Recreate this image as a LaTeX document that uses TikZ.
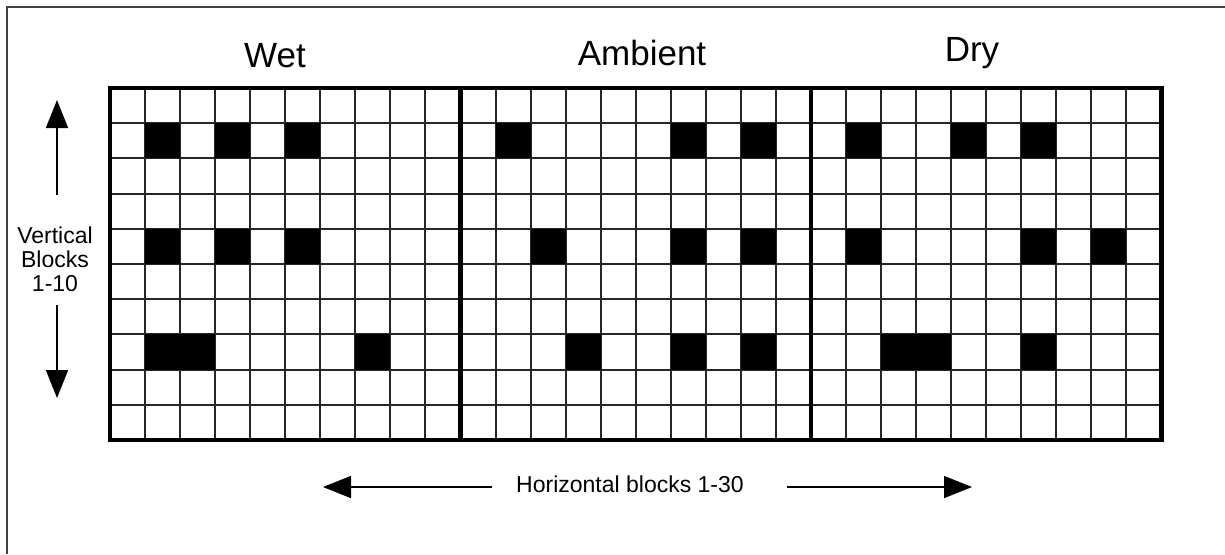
\documentclass[tikz,border=0pt]{standalone}
\usepackage{fontspec}
\setmainfont{Liberation Sans}
\usetikzlibrary{arrows.meta}
\tikzset{
  frame/.style ={draw=black!75, line width=0.8pt},
  cellline/.style={draw=black!85, line width=1pt},
  sect/.style  ={draw, line width=2.4pt},
  hit/.style   ={fill=black},
  ttl/.style   ={anchor=base, font=\fontsize{17.5}{20}\selectfont},
  lbl/.style   ={anchor=base, font=\fontsize{11.5}{12}\selectfont, align=center},
  fl/.style    ={-{Triangle[length=14pt,width=11pt]}, line width=0.8pt}
}
\newcommand{\cellw}{17.525pt}
\newcommand{\cellh}{17.6pt}

\begin{document}
\begin{tikzpicture}[x=0.5pt, y=-0.5pt]
  \useasboundingbox (0,0) rectangle (1225,554);
  \fill[white] (0,0) rectangle (1225,554);
  % outer frame (only top and left edges are in view)
  \draw[frame] (1225,7) -- (7,7) -- (7,554);

  % column titles
  \node[ttl] (wet) at (275,67) {Wet};
  \node[ttl] (amb) at (642,65) {Ambient};
  \node[ttl] (dry) at (972,61) {Dry};

  % the block grid, in cell units
  \begin{scope}[shift={(110,88)}, x=\cellw, y=-\cellh]
    \foreach \c in {1,...,29}
      \draw[cellline] (\c,0) -- (\c,10);
    \foreach \r in {1,...,9}
      \draw[cellline] (0,\r) -- (30,\r);
    \foreach \c/\r in {2/2,4/2,6/2, 2/5,4/5,6/5, 2/8,3/8,8/8,
                       12/2,17/2,19/2, 13/5,17/5,19/5, 14/8,17/8,19/8,
                       22/2,25/2,27/2, 22/5,27/5,29/5, 23/8,24/8,27/8}
      \fill[hit] (\c-1,\r-1) rectangle (\c,\r);
    \foreach \s in {0,10,20}
      \draw[sect] (\s,0) rectangle (\s+10,10);
  \end{scope}

  % vertical axis
  \node[lbl] (vlab) at (55,291) {Vertical\\Blocks\\1-10};
  \coordinate (vup0) at (57,195);  \coordinate (vup1) at (57,100);
  \coordinate (vdn0) at (57,305);  \coordinate (vdn1) at (57,398);
  \draw[fl] (vup0) -- (vup1);
  \draw[fl] (vdn0) -- (vdn1);

  % horizontal axis
  \node[lbl] (hlab) at (630,492) {Horizontal blocks 1-30};
  \coordinate (hl0) at (492,487);  \coordinate (hl1) at (323,487);
  \coordinate (hr0) at (787,487);  \coordinate (hr1) at (972,487);
  \draw[fl] (hl0) -- (hl1);
  \draw[fl] (hr0) -- (hr1);
\end{tikzpicture}
\end{document}
